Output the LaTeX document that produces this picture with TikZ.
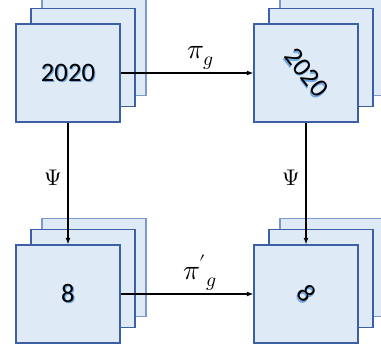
\documentclass[tikz,border=0pt]{standalone}
\usepackage{unicode-math}
\setmathfont{Latin Modern Math}
\newfontfamily\cardfont{Carlito}
\usetikzlibrary{arrows.meta}
\definecolor{cardfill}{RGB}{222,235,247}
\definecolor{cardedge}{RGB}{60,95,165}
\definecolor{backedge}{RGB}{125,152,205}
\definecolor{glow}{RGB}{110,165,225}
\newcommand{\glowtext}[1]{\makebox[0pt][l]{\color{glow}\hspace{0.8pt}\raisebox{-0.8pt}{#1}}#1}
\begin{document}
\begin{tikzpicture}[x=0.75pt,y=-0.75pt,
    card/.style={shape=rectangle,draw=cardedge,fill=cardfill,line width=0.8pt,
        minimum width=78pt,minimum height=73.5pt,inner sep=0pt,
        font=\cardfont\fontsize{20}{24}\selectfont},
    backcard/.style={card,draw=backedge},
    map/.style={-{Latex[length=5pt,width=3.8pt]},line width=1.3pt},
    lbl/.style={font=\fontsize{21}{25}\selectfont,inner sep=2pt},
    psi/.style={font=\fontsize{17}{20}\selectfont,inner sep=4pt}]
    \useasboundingbox (0,0) rectangle (381,352);

        \node[backcard] (A2) at (94,46.5) {};
        \node[card] (A1) at (83,57.5) {};
        \node[card] (A) at (68,73) {\glowtext{2020}};

        \node[backcard] (B2) at (332,46.5) {};
        \node[card] (B1) at (321,57.5) {};
        \node[card] (B) at (306,73) {\rotatebox{-52}{\glowtext{2020}}};

        \node[backcard] (C2) at (94,267.5) {};
        \node[card] (C1) at (83,278.5) {};
        \node[card] (C) at (68,294) {\glowtext{8}};

        \node[backcard] (D2) at (332,267.5) {};
        \node[card] (D1) at (321,278.5) {};
        \node[card] (D) at (306,294) {\rotatebox{-52}{\glowtext{8}}};

        \path[map] (A) edge node[lbl,above,pos=0.6] {$\pi_g$} (B);
        \path[map] (C) edge node[lbl,above,pos=0.6] {${\pi'}_g$} (D);
        \path[map] (A) edge node[psi,left,pos=0.45] {$\Psi$} (C);
        \path[map] (B) edge node[psi,left,pos=0.45] {$\Psi$} (D);
    \end{tikzpicture}
\end{document}
